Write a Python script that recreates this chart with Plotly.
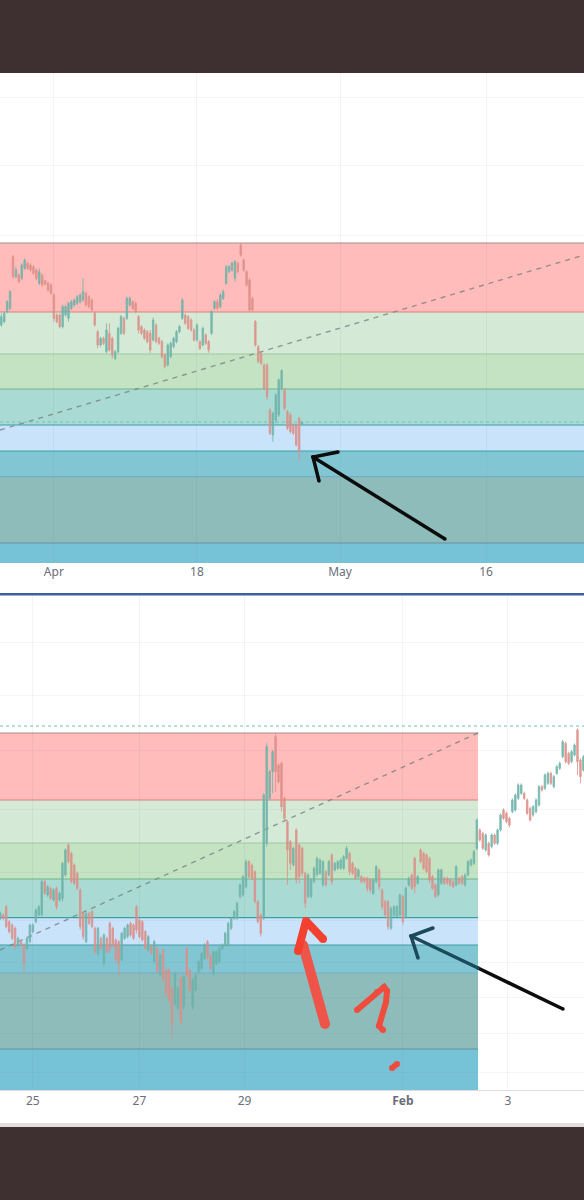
import plotly.graph_objects as go

W, H = 584, 1200

# ---------- upper chart (daily-style session, Apr .. May) ----------
top_high = [750,755,790,820,925,890,870,900,915,905,
            900,895,885,885,870,850,845,840,810,750,
            750,775,775,785,790,795,805,810,855,815,
            805,795,755,700,680,680,720,720,680,640,
            710,745,740,800,800,790,785,745,715,705,
            700,700,738,720,680,670,630,660,665,680,
            700,715,795,750,745,735,705,720,670,710,
            690,670,760,790,793,810,822,895,895,905,
            910,905,960,915,880,855,800,730,655,635,
            600,600,465,455,510,555,582,525,460,452,
            420,420,440,425]
top_low = [710,720,750,760,855,855,840,850,880,880,
           875,865,850,835,830,835,815,805,725,720,
           705,705,740,725,760,770,775,780,785,770,
           765,755,710,645,650,655,630,635,615,610,
           630,685,685,730,770,760,750,690,685,670,
           660,630,665,660,655,615,585,590,615,645,
           660,690,730,715,700,695,665,665,640,650,
           655,632,685,760,760,765,790,835,870,875,
           845,870,920,875,830,755,755,650,600,595,
           520,490,385,365,420,440,520,460,400,390,
           385,350,305,415]
top_open = [715,725,755,765,920,860,865,855,885,900,
            895,890,880,840,865,848,840,835,805,745,
            745,710,745,735,765,775,780,785,790,810,
            800,790,750,695,655,675,635,690,675,615,
            635,690,735,735,775,785,780,740,710,700,
            695,690,670,715,675,665,625,595,620,650,
            665,695,735,745,740,730,700,670,665,655,
            685,665,690,765,785,770,795,840,875,880,
            855,900,955,910,875,850,795,725,650,630,
            595,595,460,385,430,445,525,520,455,445,
            415,415,435,418]
top_close = [740,750,785,815,860,880,845,895,910,885,
             880,870,855,875,835,837,820,810,735,725,
             710,770,770,780,785,790,800,805,815,775,
             770,760,715,655,675,660,700,640,625,635,
             705,740,690,795,795,765,755,700,690,675,
             665,640,730,665,660,620,590,655,660,675,
             695,710,790,720,705,700,670,715,645,705,
             660,640,755,785,765,805,815,890,890,900,
             905,875,925,880,835,760,760,655,605,600,
             525,500,390,450,505,550,578,465,405,395,
             390,355,335,423]

top_levels = [961, 754, 628, 523, 415, 337, 260, 61, 1]
top_dotted = 424
top_trend = [400, 925]
top_hgrid = [1399, 1195, 985]
top_ticks = [18, 67, 116, 166]
top_labels = ["Apr", "18", "May", "16"]

# ---------- lower chart (25 Jan .. 3 Feb) ----------
low_high = [625,620,645,600,590,580,550,540,530,550,
            590,590,635,645,720,720,705,700,695,700,
            685,775,815,830,805,770,745,695,625,625,
            625,630,580,580,550,560,550,595,580,545,
            540,565,580,590,595,590,645,605,600,570,
            555,525,540,520,500,515,455,455,400,445,
            400,430,435,520,455,425,440,480,505,530,
            540,500,510,510,520,530,565,595,610,630,
            655,710,735,782,780,770,750,660,620,980,
            1130,1050,1110,1160,1070,1075,970,900,840,820,
            875,830,820,745,740,725,760,790,785,780,
            750,780,800,775,780,785,795,822,805,775,
            760,755,735,730,730,725,725,765,755,695,
            660,660,640,645,645,680,675,700,730,740,
            790,735,815,805,800,790,735,710,755,755,
            730,730,725,720,765,730,735,740,780,785,
            810,905,875,865,860,835,860,860,875,920,
            935,925,910,965,980,1010,1010,985,965,940,
            945,965,1005,1005,1040,1045,1045,1035,1065,1075,
            1140,1135,1105,1110,1130,1175,1085,1095]
low_low = [600,600,575,560,540,510,520,520,440,510,
           530,560,590,610,610,675,670,660,655,630,
           655,655,730,770,710,705,690,570,540,530,
           585,575,495,490,510,460,500,500,520,470,
           430,475,540,545,550,540,560,545,535,510,
           505,495,470,440,430,415,370,350,245,340,
           330,285,330,430,385,330,385,440,450,480,
           480,450,430,465,470,510,520,520,570,600,
           600,665,670,695,725,720,650,590,550,600,
           820,960,980,985,1010,925,900,705,750,760,
           710,710,730,635,665,665,710,730,735,700,
           700,730,705,745,750,750,750,780,735,735,
           720,725,710,710,685,680,675,710,690,630,
           610,570,570,610,605,610,585,605,700,690,
           680,705,770,750,740,710,690,665,670,705,
           705,705,700,695,700,705,705,700,730,760,
           765,810,835,810,805,790,815,825,825,865,
           900,890,878,920,925,960,975,960,915,895,
           910,920,940,985,990,1005,1005,995,1035,1050,
           1085,1070,1065,1070,1090,1035,1010,1045]
low_open = [605,615,640,595,585,575,525,535,525,515,
            535,565,595,615,615,715,675,695,660,695,
            660,665,735,825,800,765,740,690,620,535,
            620,625,575,500,545,470,545,590,575,540,
            535,480,545,550,590,585,640,600,595,565,
            510,520,475,515,435,510,450,450,395,350,
            335,425,340,515,450,340,390,445,455,485,
            535,495,440,470,475,515,525,525,575,605,
            605,670,675,700,775,765,745,655,615,605,
            830,965,1045,1150,1065,1070,965,895,835,765,
            870,825,815,740,670,670,715,735,740,705,
            745,735,795,750,755,755,755,785,800,770,
            755,730,730,725,725,720,680,715,750,690,
            655,655,575,615,610,615,670,610,705,735,
            785,710,810,800,795,785,730,705,675,710,
            725,725,720,715,705,725,730,705,735,765,
            770,815,870,860,810,830,820,855,830,870,
            930,920,905,925,930,965,980,980,960,935,
            915,925,945,1000,995,1010,1040,1000,1040,1055,
            1090,1130,1100,1075,1095,1170,1080,1050]
low_close = [620,605,580,565,545,520,545,525,470,545,
             585,585,630,640,715,680,700,665,690,640,
             680,770,810,775,715,710,695,580,550,620,
             590,580,505,575,515,555,505,510,525,480,
             470,560,575,585,555,545,570,550,540,515,
             550,500,535,445,495,425,380,360,290,440,
             395,295,430,435,390,420,435,475,500,525,
             490,455,505,505,515,525,560,590,605,625,
             650,705,730,775,730,725,655,595,560,975,
             1120,1045,1105,1045,1015,940,905,810,770,815,
             720,730,740,650,735,720,755,785,780,775,
             705,775,715,770,775,780,790,815,745,740,
             725,750,715,715,695,690,720,760,700,640,
             615,580,635,640,640,675,595,695,725,695,
             700,730,775,755,745,720,695,670,750,750,
             710,710,705,700,760,710,710,735,775,780,
             805,900,840,815,855,795,855,830,870,915,
             905,895,885,960,975,1005,1005,965,920,900,
             940,960,1000,990,1035,1040,1010,1030,1060,1070,
             1135,1075,1070,1105,1125,1075,1030,1090]

low_levels = [1161, 960, 831, 723, 607, 525, 441, 213, 90]
low_dotted = 1182
low_trend = [510, 1161]
low_hgrid = [1434, 1275, 1110, 933, 744, 600, 474, 369, 261, 144]
low_ticks = [11, 47, 82.5, 136, 171.5]
low_labels = ["25", "27", "29", "<b>Feb</b>", "3"]

for lst in (top_low, top_open, top_close):
    assert len(lst) == len(top_high)
for lst in (low_low, low_open, low_close):
    assert len(lst) == len(low_high)

# ---------- hand-drawn pen marks (page pixels) ----------
arrow1_x, arrow1_y = [445, 313], [539, 457]
arrow1_head_x, arrow1_head_y = [338, 313, 319], [452, 457, 481]
arrow2a_x, arrow2a_y = [563, 478], [1009, 968]
arrow2b_x, arrow2b_y = [478, 411], [968, 936]
arrow2_head_x, arrow2_head_y = [433, 411, 418], [928, 936, 958]
red_shaft_x, red_shaft_y = [325, 303], [1024, 945]
red_head_x, red_head_y = [298, 306, 323], [951, 921, 939]
red_mark_x, red_mark_y = [357, 377, 384, 387, 386, 379, 383], [1010, 992, 987, 991, 1002, 1026, 1030]
red_dot_x, red_dot_y = [392, 397], [1068, 1064]

BAND_FILL = ["#ffbcba", "#d5ead6", "#c3e3c3", "#a9dbd4", "#c9e3fb", "#83c6d3", "#8dbcba", "#76c3d8"]
LEVEL_LINE = ["#a98a8a", "#de7f7d", "#9ecaa0", "#72b48c", "#3f9ea3", "#3f9ea8", "#74adc9", "#6d8fa0", "#cfe3e8"]
UP, DOWN = "#6db3a9", "#dc8e88"
DARK = "#3e3031"

fig = go.Figure()


def candles(x, o, h, l, c, xa, ya):
    fig.add_trace(go.Candlestick(
        x=x, open=o, high=h, low=l, close=c, xaxis=xa, yaxis=ya,
        increasing=dict(line=dict(color=UP, width=0.9), fillcolor=UP),
        decreasing=dict(line=dict(color=DOWN, width=0.9), fillcolor=DOWN),
        whiskerwidth=0, opacity=0.9, showlegend=False, hoverinfo="skip"))


candles(list(range(len(top_high))), top_open, top_high, top_low, top_close, "x", "y")
candles(list(range(len(low_high))), low_open, low_high, low_low, low_close, "x2", "y2")


def stroke(x, y, color, width, marker=None):
    fig.add_trace(go.Scatter(
        x=x, y=y, xaxis="x3", yaxis="y3", mode="lines+markers",
        line=dict(color=color, width=width),
        marker=dict(color=color, size=marker or width, line=dict(width=0)),
        showlegend=False, hoverinfo="skip"))


stroke(arrow1_x, arrow1_y, "#0c0c0c", 3.5)
stroke(arrow1_head_x, arrow1_head_y, "#0c0c0c", 3.5)
stroke(arrow2a_x, arrow2a_y, "#0c0c0c", 3.5)
stroke(arrow2b_x, arrow2b_y, "#1b4a5a", 3.5)
stroke(arrow2_head_x, arrow2_head_y, "#1b4a5a", 3.5)
stroke(red_shaft_x, red_shaft_y, "#ee5548", 10)
stroke(red_head_x, red_head_y, "#f4402f", 8)
stroke(red_mark_x, red_mark_y, "#f04c3e", 6)
stroke(red_dot_x, red_dot_y, "#f04c3e", 6)

shapes = []
TOP_SPAN = [-0.45, 199.55]
LOW_SPAN = [-0.1, 197.2]
LOW_BAND_END = 161.4


def panel(levels, xa, ya, x0, x1, dotted, trend):
    for i, fill in enumerate(BAND_FILL):
        shapes.append(dict(type="rect", xref=xa, yref=ya, x0=x0, x1=x1,
                           y0=levels[i + 1], y1=levels[i], fillcolor=fill,
                           line=dict(width=0), layer="below"))
    for lvl, col in zip(levels[:-1], LEVEL_LINE):
        shapes.append(dict(type="line", xref=xa, yref=ya, x0=x0, x1=x1, y0=lvl, y1=lvl,
                           line=dict(color=col, width=1.2), layer="below"))
    shapes.append(dict(type="line", xref=xa, yref=ya, x0=x0, x1=x1 if xa == "x" else LOW_SPAN[1],
                       y0=dotted, y1=dotted,
                       line=dict(color="#6fc2b8", width=1, dash="dot"), layer="below"))
    shapes.append(dict(type="line", xref=xa, yref=ya, x0=x0, x1=x1, y0=trend[0], y1=trend[1],
                       line=dict(color="rgba(115,125,125,0.75)", width=1.4, dash="5px,5px"),
                       layer="below"))


panel(top_levels, "x", "y", TOP_SPAN[0], TOP_SPAN[1], top_dotted, top_trend)
panel(low_levels, "x2", "y2", LOW_SPAN[0], LOW_BAND_END, low_dotted, low_trend)

# page furniture
for y0, y1, col in [(0, 73, DARK), (1127, 1200, DARK), (1123, 1127, "#dfdfdf"), (593, 595.5, "#3f5ea6")]:
    shapes.append(dict(type="rect", xref="x3", yref="y3", x0=0, x1=W, y0=y0, y1=y1,
                       fillcolor=col, line=dict(width=0), layer="above"))

axis_font = dict(family="Noto Sans, Tahoma, sans-serif", size=12, color="#6b6e78")
GRID = "rgba(100,110,130,0.08)"


def xaxis(anchor, span, ticks, labels, line):
    return dict(domain=[0, 1], anchor=anchor, range=span, tickmode="array", tickvals=ticks,
                ticktext=labels, showgrid=True, gridcolor=GRID, gridwidth=1, ticks="",
                showline=line, linecolor="#dcdcdc", zeroline=False, rangeslider=dict(visible=False),
                tickfont=axis_font, fixedrange=True)


def yaxis(anchor, dom, span, grid):
    return dict(domain=dom, anchor=anchor, range=span, tickmode="array", tickvals=grid,
                showticklabels=False, showgrid=True, gridcolor="rgba(100,110,130,0.06)", gridwidth=1,
                ticks="", zeroline=False, showline=False, fixedrange=True)


fig.update_layout(
    width=W, height=H, autosize=False,
    margin=dict(l=0, r=0, t=0, b=0),
    paper_bgcolor="white", plot_bgcolor="rgba(0,0,0,0)",
    showlegend=False, shapes=shapes,
    xaxis=xaxis("y", TOP_SPAN, top_ticks, top_labels, False),
    yaxis=yaxis("x", [1 - 563 / H, 1 - 73 / H], [1, 1471], top_hgrid),
    xaxis2=xaxis("y2", LOW_SPAN, low_ticks, low_labels, True),
    yaxis2=yaxis("x2", [1 - 1090 / H, 1 - 596 / H], [90, 1572], low_hgrid),
    xaxis3=dict(domain=[0, 1], anchor="y3", range=[0, W], visible=False, fixedrange=True),
    yaxis3=dict(domain=[0, 1], anchor="x3", range=[H, 0], visible=False, fixedrange=True),
)

fig.write_html("out.html", config=dict(displayModeBar=False),
               post_script="document.body.style.margin='0';")
